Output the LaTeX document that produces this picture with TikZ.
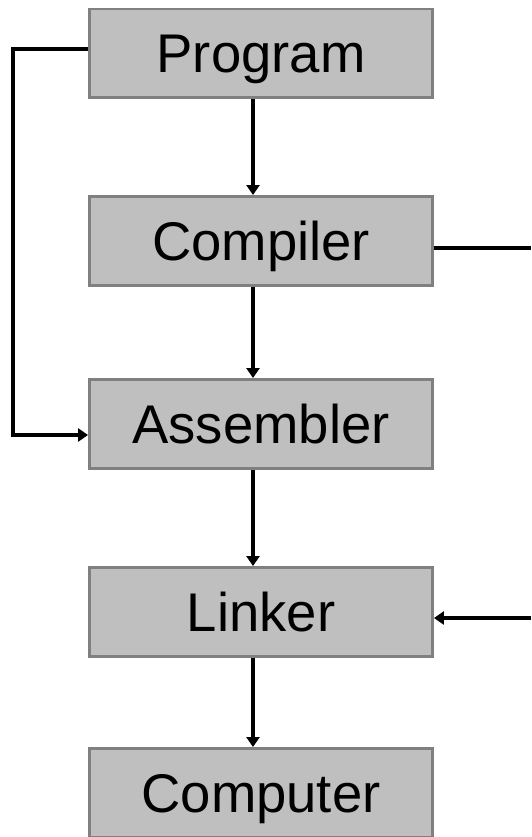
\documentclass[tikz,border=0pt]{standalone}
\usepackage{fontspec}
\setmainfont{Liberation Sans}
\usetikzlibrary{arrows.meta}

\begin{document}
\begin{tikzpicture}[x=0.02cm, y=-0.02cm,
    stage/.style={draw=black!50, line width=1.7pt, fill=black!25,
      minimum width=6.86cm, minimum height=1.78cm, inner sep=0pt,
      text height=0.78cm, text depth=0pt,
      font=\fontsize{31}{36}\selectfont},
    flow/.style={line width=2.3pt, -{Triangle[width=0.26cm, length=0.2cm]}},
    plain/.style={line width=2.3pt}]
    \useasboundingbox (0,0) rectangle (531,837);
    \node [stage] (prog) at (261,53.5) {Program};
    \node [stage] (comp) at (261,241) {Compiler};
    \node [stage] (asm) at (261,424) {Assembler};
    \node [stage] (link) at (261,612) {Linker};
    \node [stage] (cpu) at (261,793) {Computer};
    %% free ends on the right side
    \coordinate (compout) at (531,248);
    \coordinate (linkin) at (531,618);
    \coordinate (loopa) at (13,49);
    \coordinate (loopb) at (13,435);

    \draw [flow] ([xshift=-0.16cm]prog.south) -- ([xshift=-0.16cm]comp.north);
    \draw [flow] ([xshift=-0.16cm]comp.south) -- ([xshift=-0.16cm]asm.north);
    \draw [flow] ([xshift=-0.16cm]asm.south) -- ([xshift=-0.16cm]link.north);
    \draw [flow] ([xshift=-0.16cm]link.south) -- ([xshift=-0.16cm]cpu.north);
    %% loop round the left
    \draw [flow] (prog.west |- loopa) -- (loopa) -- (loopb) -- (asm.west |- loopb);
    \draw [plain] (comp.east |- compout) -- (compout);
    \draw [flow] (linkin) -- (link.east |- linkin);
\end{tikzpicture}
\end{document}
